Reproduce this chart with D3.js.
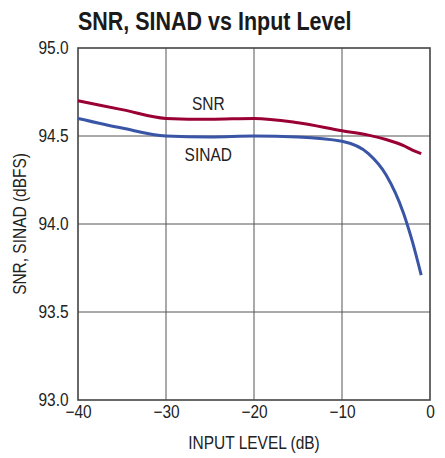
<!DOCTYPE html>
<meta charset="utf-8">
<style>
body { margin: 0; background: #fff; }
text { font-family: "Liberation Sans Narrow", "Arial Narrow", "Liberation Sans", sans-serif; fill: #222; }
.title { font-weight: bold; font-size: 25px; fill: #1a1a1a; }
.tick text { font-size: 18px; }
.axis-label { font-size: 18px; }
.series-label { font-size: 18px; }
</style>
<body>
<script src="https://cdn.jsdelivr.net/npm/d3@7"></script>
<script>

var inputLevel = [-40, -35, -30, -25, -20, -15, -10, -7, -5, -3, -2, -1];
var snr   = [94.70, 94.65, 94.60, 94.595, 94.60, 94.575, 94.53, 94.505, 94.48, 94.445, 94.42, 94.40];
var sinad = [94.60, 94.545, 94.50, 94.495, 94.50, 94.495, 94.47, 94.40, 94.28, 94.06, 93.90, 93.71];

var xTicks = [-40, -30, -20, -10, 0];
var yTicks = [93.0, 93.5, 94.0, 94.5, 95.0];

var width = 445,
    height = 458;
var margin = {left: 78, right: 15, top: 48, bottom: 58};
var squeeze = 0.86; // no narrow font installed, so squash text horizontally

var svg = d3.select("body").append("svg")
    .attr("width", width)
    .attr("height", height);

var x = d3.scaleLinear().domain([-40, 0]).range([margin.left, width - margin.right]);
var y = d3.scaleLinear().domain([93, 95]).range([height - margin.bottom, margin.top]);

// place a text at (px, py) and squeeze it
function label(cls, px, py, str, anchor, rot) {
  return svg.append("text").attr("class", cls)
      .attr("transform", "translate(" + px + "," + py + ")" + (rot ? " rotate(" + rot + ")" : "") + " scale(" + squeeze + ",1)")
      .attr("text-anchor", anchor || "start")
      .text(str);
}

// grid
svg.append("g").selectAll("line")
    .data(xTicks.slice(1, -1))
  .enter().append("line")
    .attr("x1", d => x(d)).attr("x2", d => x(d))
    .attr("y1", y(93)).attr("y2", y(95))
    .attr("stroke", "#555").attr("stroke-width", 1);

svg.append("g").selectAll("line")
    .data(yTicks.slice(1, -1))
  .enter().append("line")
    .attr("x1", x(-40)).attr("x2", x(0))
    .attr("y1", d => y(d)).attr("y2", d => y(d))
    .attr("stroke", "#555").attr("stroke-width", 1);

// axes (labels only)
var xAxis = svg.append("g")
    .attr("transform", "translate(0," + y(93) + ")")
    .call(d3.axisBottom(x).tickValues(xTicks).tickSize(0).tickPadding(5)
      .tickFormat(d => d < 0 ? "\u2212" + Math.abs(d) : d));
xAxis.select(".domain").remove();

var yAxis = svg.append("g")
    .attr("transform", "translate(" + x(-40) + ",0)")
    .call(d3.axisLeft(y).tickValues(yTicks).tickSize(0).tickPadding(11).tickFormat(d3.format(".1f")));
yAxis.select(".domain").remove();

svg.selectAll(".tick text")
    .attr("fill", "#222")
    .attr("transform", "scale(" + squeeze + ",1)");

// frame
svg.append("rect")
    .attr("x", x(-40)).attr("y", y(95))
    .attr("width", x(0) - x(-40)).attr("height", y(93) - y(95))
    .attr("fill", "none").attr("stroke", "#444").attr("stroke-width", 1.6);

// lines
var line = d3.line()
    .x((d, i) => x(inputLevel[i]))
    .y(d => y(d))
    .curve(d3.curveMonotoneX);

svg.append("path").datum(snr)
    .attr("d", line).attr("fill", "none")
    .attr("stroke", "#9b0034").attr("stroke-width", 3);

svg.append("path").datum(sinad)
    .attr("d", line).attr("fill", "none")
    .attr("stroke", "#3a55a6").attr("stroke-width", 3);

// series labels
label("series-label", x(-25.2), y(94.62) - 5, "SNR", "middle");
label("series-label", x(-25.2), y(94.5) + 25, "SINAD", "middle");

// titles
label("title", 78, 30, "SNR, SINAD vs Input Level");
label("axis-label", x(-20), 449, "INPUT LEVEL (dB)", "middle");
label("axis-label", 26, y(94), "SNR, SINAD (dBFS)", "middle", -90);

</script>
</body>
